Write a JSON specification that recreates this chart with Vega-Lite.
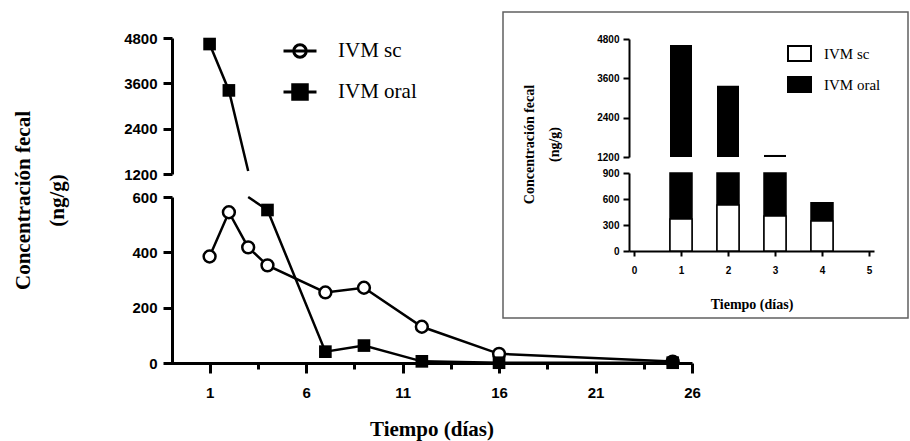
{
  "$schema": "https://vega.github.io/schema/vega-lite/v6.json",
  "autosize": "none",
  "padding": {"left": 503, "top": 12, "right": 2, "bottom": 123},
  "width": 405,
  "height": 306,
  "background": "white",
  "config": {
    "view": {"stroke": "#606060", "strokeWidth": 1.5, "fill": "white"},
    "axis": {
      "grid": false,
      "labelFlush": false,
      "labelOverlap": false,
      "domainColor": "black",
      "tickColor": "black",
      "labelColor": "black",
      "titleColor": "black",
      "labelFont": "Liberation Sans",
      "labelFontWeight": "bold",
      "titleFont": "Liberation Serif",
      "titleFontWeight": "bold"
    },
    "legend": {
      "padding": 0,
      "labelFont": "Liberation Serif",
      "labelColor": "black",
      "labelFontWeight": "normal"
    }
  },
  "datasets": {
    "fecal": [
      {"dia": 1, "serie": "IVM sc", "valor": 385},
      {"dia": 2, "serie": "IVM sc", "valor": 545},
      {"dia": 3, "serie": "IVM sc", "valor": 418},
      {"dia": 4, "serie": "IVM sc", "valor": 353},
      {"dia": 7, "serie": "IVM sc", "valor": 255},
      {"dia": 9, "serie": "IVM sc", "valor": 272},
      {"dia": 12, "serie": "IVM sc", "valor": 131},
      {"dia": 16, "serie": "IVM sc", "valor": 33},
      {"dia": 25, "serie": "IVM sc", "valor": 5},
      {"dia": 1, "serie": "IVM oral", "valor": 4640},
      {"dia": 2, "serie": "IVM oral", "valor": 3413},
      {"dia": 3, "serie": "IVM oral", "valor": 1280},
      {"dia": 4, "serie": "IVM oral", "valor": 553},
      {"dia": 7, "serie": "IVM oral", "valor": 41},
      {"dia": 9, "serie": "IVM oral", "valor": 63},
      {"dia": 12, "serie": "IVM oral", "valor": 6},
      {"dia": 16, "serie": "IVM oral", "valor": 1},
      {"dia": 25, "serie": "IVM oral", "valor": 1}
    ],
    "detalle": [
      {"dia": 1, "serie": "IVM oral", "valor": 4617},
      {"dia": 2, "serie": "IVM oral", "valor": 3370},
      {"dia": 3, "serie": "IVM oral", "valor": 1262},
      {"dia": 4, "serie": "IVM oral", "valor": 556},
      {"dia": 1, "serie": "IVM sc", "valor": 369},
      {"dia": 2, "serie": "IVM sc", "valor": 531},
      {"dia": 3, "serie": "IVM sc", "valor": 404},
      {"dia": 4, "serie": "IVM sc", "valor": 346}
    ]
  },
  "layer": [
    {
      "data": {"name": "fecal"},
      "transform": [{"filter": "datum.serie === 'IVM oral' && datum.dia <= 3"}],
      "encoding": {
        "x": {
          "field": "dia", "type": "quantitative",
          "scale": {"domain": [-1, 26], "range": [-332, 189], "nice": false, "zero": false},
          "axis": {"orient": "bottom", "offset": 45, "values": [3.5, 8.5, 13.5, 18.5, 23.5], "labels": false, "domain": false, "tickSize": 6, "tickWidth": 3, "title": null}
        },
        "y": {
          "field": "valor", "type": "quantitative",
          "scale": {"domain": [1200, 4800], "range": [162, 26], "nice": false, "zero": false, "clamp": true},
          "axis": {"orient": "left", "offset": 331, "values": [1200, 2400, 3600, 4800], "format": "d", "title": null, "domainWidth": 3, "tickWidth": 3, "tickSize": 9, "labelPadding": 6, "labelFontSize": 15}
        }
      },
      "layer": [
        {"mark": {"type": "line", "color": "black", "strokeWidth": 2.5}},
        {
          "transform": [{"filter": "datum.valor >= 2000"}],
          "mark": {"type": "point", "shape": "square", "filled": true, "color": "black", "opacity": 1, "size": 160}
        }
      ]
    },
    {
      "data": {"name": "fecal"},
      "encoding": {
        "x": {
          "field": "dia", "type": "quantitative",
          "scale": {"domain": [-1, 26], "range": [-332, 189], "nice": false, "zero": false},
          "axis": {"orient": "bottom", "offset": 45, "values": [1, 6, 11, 16, 21, 26], "title": "Tiempo (días)", "domainWidth": 3, "tickWidth": 3, "tickSize": 10, "labelPadding": 12, "labelFontSize": 15, "titleFontSize": 21, "titleBaseline": "alphabetic", "titleY": 72}
        },
        "y": {
          "field": "valor", "type": "quantitative",
          "scale": {"domain": [0, 600], "range": [351, 185], "nice": false, "zero": false, "clamp": true},
          "axis": {"orient": "left", "offset": 331, "values": [0, 200, 400, 600], "format": "d", "title": ["Concentración fecal", "(ng/g)"], "domainWidth": 3, "tickWidth": 3, "tickSize": 9, "labelPadding": 6, "labelFontSize": 15, "titleFontSize": 21, "titleLineHeight": 34, "titleAngle": -90, "titleBaseline": "middle", "titleAlign": "center", "titleX": -149, "titleY": 188}
        }
      },
      "layer": [
        {
          "transform": [{"filter": "datum.dia >= 3 || datum.serie === 'IVM sc'"}],
          "mark": {"type": "line", "color": "black", "strokeWidth": 2.5},
          "encoding": {"detail": {"field": "serie"}}
        },
        {
          "transform": [{"filter": "datum.serie === 'IVM sc'"}],
          "mark": {"type": "point", "shape": "circle", "fill": "white", "stroke": "black", "strokeWidth": 2.5, "opacity": 1, "size": 140}
        },
        {
          "transform": [{"filter": "datum.serie === 'IVM oral' && datum.valor <= 600"}],
          "mark": {"type": "point", "shape": "square", "filled": true, "color": "black", "opacity": 1, "size": 160}
        },
        {
          "mark": {"type": "point", "stroke": "black", "opacity": 0},
          "encoding": {
            "shape": {
              "field": "serie", "type": "nominal",
              "scale": {"domain": ["IVM sc", "IVM oral"], "range": ["M-1,0H1M-0.38,0A0.38,0.38 0 1,0 0.38,0A0.38,0.38 0 1,0 -0.38,0", "M-1,0H1M-0.44,-0.44H0.44V0.44H-0.44Z"]},
              "legend": {"orient": "none", "legendX": -221, "legendY": 21, "title": null, "symbolSize": 1089, "symbolStrokeWidth": 3, "symbolStrokeColor": "black", "symbolOpacity": 1, "labelFontSize": 21, "labelOffset": 20, "rowPadding": 10,
                "encode": {"symbols": {"update": {"stroke": {"value": "black"}, "strokeWidth": {"value": 3}}}}}
            },
            "fill": {
              "field": "serie", "type": "nominal",
              "scale": {"domain": ["IVM sc", "IVM oral"], "range": ["white", "black"]},
              "legend": {"orient": "none", "legendX": -221, "legendY": 21, "title": null, "symbolSize": 1089, "symbolStrokeWidth": 3, "symbolStrokeColor": "black", "symbolOpacity": 1, "labelFontSize": 21, "labelOffset": 20, "rowPadding": 10,
                "encode": {"symbols": {"update": {"stroke": {"value": "black"}, "strokeWidth": {"value": 3}}}}}
            }
          }
        }
      ]
    },
    {
      "data": {"name": "detalle"},
      "transform": [{"filter": "datum.serie === 'IVM oral' && datum.valor > 1200"}],
      "mark": {"type": "bar", "width": 22, "color": "black"},
      "encoding": {
        "x": {
          "field": "dia", "type": "quantitative",
          "scale": {"domain": [0, 5], "range": [126, 371], "nice": false, "zero": false},
          "axis": null
        },
        "y": {
          "field": "valor", "type": "quantitative",
          "scale": {"domain": [1200, 4800], "range": [145, 27], "nice": false, "zero": false, "clamp": true},
          "axis": {"orient": "left", "offset": -126, "values": [1200, 2400, 3600, 4800], "format": "d", "title": null, "domainWidth": 2, "tickWidth": 2, "tickSize": 6, "labelPadding": 4, "labelFontSize": 10}
        },
        "y2": {"datum": 0}
      }
    },
    {
      "data": {"name": "detalle"},
      "mark": {"type": "bar", "width": 22, "stroke": "black", "strokeWidth": 1.5},
      "encoding": {
        "x": {
          "field": "dia", "type": "quantitative",
          "scale": {"domain": [0, 5], "range": [126, 371], "nice": false, "zero": false},
          "axis": {"orient": "bottom", "offset": -67, "values": [0, 1, 2, 3, 4, 5], "title": "Tiempo (días)", "domainWidth": 2, "tickWidth": 2, "tickSize": 5, "labelPadding": 9, "labelFontSize": 10, "titleFontSize": 14, "titleBaseline": "alphabetic", "titleY": 57}
        },
        "y": {
          "field": "valor", "type": "quantitative",
          "scale": {"domain": [0, 900], "range": [239, 161], "nice": false, "zero": false, "clamp": true},
          "axis": {"orient": "left", "offset": -126, "values": [0, 300, 600, 900], "format": "d", "title": ["Concentración fecal", "(ng/g)"], "domainWidth": 2, "tickWidth": 2, "tickSize": 6, "labelPadding": 4, "labelFontSize": 10, "titleFontSize": 14, "titleLineHeight": 25, "titleAngle": -90, "titleBaseline": "middle", "titleAlign": "center", "titleX": -99.5, "titleY": 132}
        },
        "y2": {"datum": 0},
        "fill": {
          "field": "serie", "type": "nominal",
          "scale": {"domain": ["IVM sc", "IVM oral"], "range": ["white", "black"]},
          "legend": {"orient": "none", "legendX": 284, "legendY": 29, "title": null, "symbolType": "M-1,-0.65H1V0.65H-1Z", "symbolSize": 529, "symbolStrokeWidth": 2, "symbolStrokeColor": "black", "labelFontSize": 15, "labelOffset": 12, "rowPadding": 7}
        }
      }
    }
  ],
  "resolve": {
    "scale": {"x": "independent", "y": "independent", "fill": "independent", "shape": "independent"},
    "axis": {"x": "independent", "y": "independent"},
    "legend": {"fill": "independent", "shape": "independent"}
  }
}
